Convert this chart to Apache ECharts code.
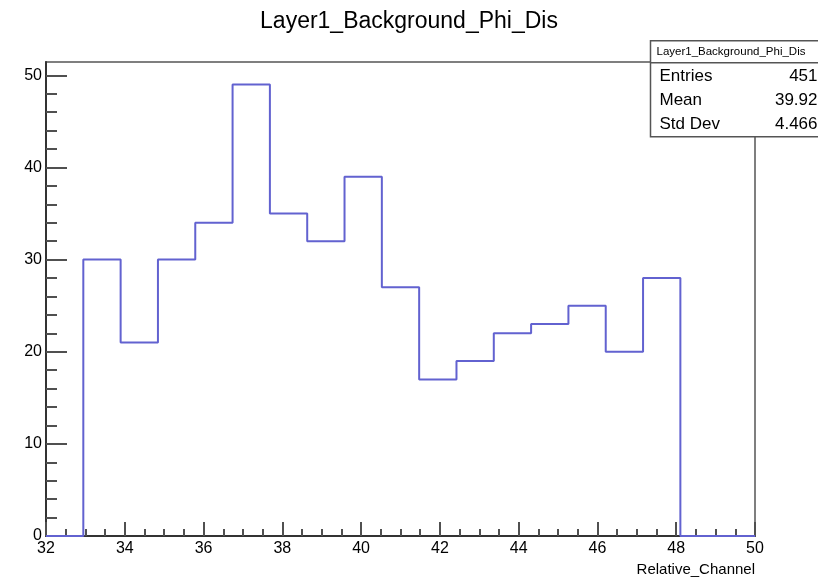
<!DOCTYPE html>
<html><head><meta charset="utf-8">
<script src="https://cdn.jsdelivr.net/npm/echarts@6/dist/echarts.min.js"></script>
<style>html,body{margin:0;padding:0;background:#fff}#c{width:818px;height:582px}</style>
</head><body><div id="c"></div>
<script>
const titleText = 'Layer1_Background_Phi_Dis';
const xTitle = 'Relative_Channel';
const xMin = 32, xMax = 50, nBins = 19;
const counts = [0, 30, 21, 30, 34, 49, 35, 32, 39, 27, 17, 19, 22, 23, 25, 20, 28, 0, 0];
const yMajorTicks = [0, 10, 20, 30, 40, 50];
const yMinorTicks = [2,4,6,8,12,14,16,18,22,24,26,28,32,34,36,38,42,44,46,48];
const statLabels = ['Entries', 'Mean', 'Std Dev'];
const statValues = ['451', '39.92', '4.466'];

const w = (xMax - xMin) / nBins;
const stepData = counts.map((c, i) => [xMin + i * w, c]);
stepData.push([xMax, 0]);
const yMax = Math.max(...counts) * 1.05;

const FONT = 'Liberation Sans';
const lineCol = '#6262d0';
const tickCol = '#505050';
const chart = echarts.init(document.getElementById('c'), null, {renderer: 'canvas'});
const gridL = 46, gridR = 63, gridT = 62, gridB = 46;
chart.setOption({
  animation: false,
  backgroundColor: '#fff',
  title: {text: titleText, left: 'center', top: 5,
    textStyle: {fontFamily: FONT, fontSize: 23, fontWeight: 'normal', color: '#000'}},
  grid: {left: gridL, right: gridR, top: gridT, bottom: gridB, show: true, borderColor: '#555', borderWidth: 1.5, containLabel: false},
  xAxis: {type: 'value', min: xMin, max: xMax, interval: 2,
    name: xTitle, nameLocation: 'end', nameGap: 0,
    nameTextStyle: {fontFamily: FONT, fontSize: 15, color: '#000', align: 'right', verticalAlign: 'top', padding: [26, 0, 0, 0]},
    axisLine: {show: true, onZero: false, lineStyle: {color: '#333', width: 2}},
    axisTick: {show: true, inside: true, length: 14, lineStyle: {color: tickCol, width: 2}},
    minorTick: {show: true, splitNumber: 4, length: 7, lineStyle: {color: tickCol, width: 2}},
    axisLabel: {fontFamily: FONT, fontSize: 16, color: '#000', margin: 5},
    splitLine: {show: false}},
  yAxis: [{type: 'value', min: 0, max: yMax,
    axisLine: {show: true, lineStyle: {color: '#333', width: 2}},
    axisTick: {show: true, inside: true, length: 21, customValues: yMajorTicks, lineStyle: {color: tickCol, width: 2}},
    axisLabel: {fontFamily: FONT, fontSize: 16, color: '#000', margin: 4, customValues: yMajorTicks},
    splitLine: {show: false}},
   {type: 'value', min: 0, max: yMax, position: 'left', offset: 0,
    axisLine: {show: false},
    axisTick: {show: true, inside: true, length: 11, customValues: yMinorTicks, lineStyle: {color: tickCol, width: 2}},
    axisLabel: {show: false},
    splitLine: {show: false}}],
  series: [{type: 'line', step: 'end', data: stepData, showSymbol: false, symbol: 'none',
    lineStyle: {color: lineCol, width: 2}, z: 3}],
  graphic: [{type: 'group', left: 648, top: 40, children: [
    {type: 'rect', shape: {x: 0, y: 0, width: 175, height: 96}, style: {fill: '#fff', stroke: '#555', lineWidth: 1.5}},
    {type: 'line', shape: {x1: 0, y1: 22, x2: 175, y2: 22}, style: {stroke: '#555', lineWidth: 1.5}},
    {type: 'text', x: 6, y: 11, style: {text: titleText, font: '11.5px ' + FONT, fill: '#000', verticalAlign: 'middle'}},
    ...statLabels.map((s, i) => ({type: 'text', x: 9, y: 36 + i * 24, style: {text: s, font: '17px ' + FONT, fill: '#000', verticalAlign: 'middle'}})),
    ...statValues.map((s, i) => ({type: 'text', x: 167, y: 36 + i * 24, style: {text: s, font: '17px ' + FONT, fill: '#000', align: 'right', verticalAlign: 'middle'}}))
  ]}]
});
</script></body></html>
